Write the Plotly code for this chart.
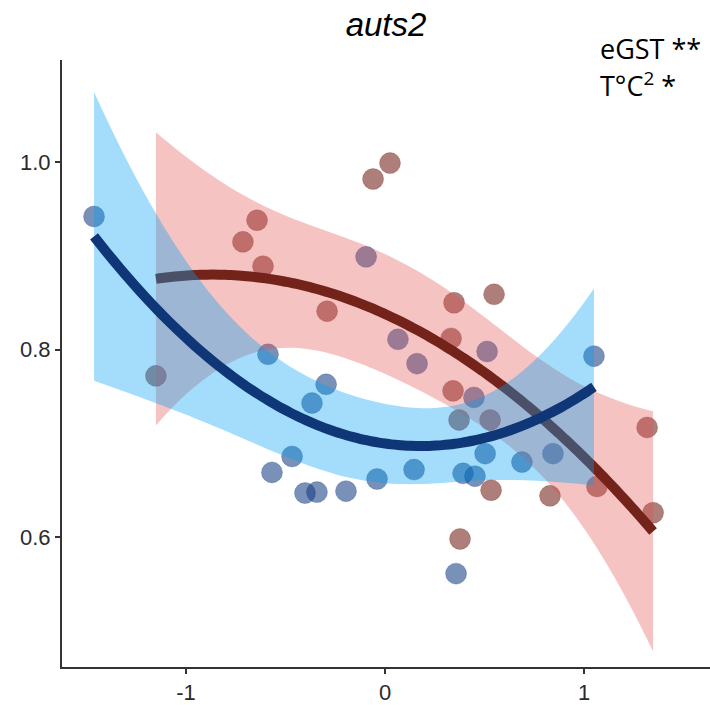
import math
import numpy as np
import plotly.graph_objects as go

# Observations per group (standardised predictor vs. expression)
blue_x = [-1.462, -0.095, -0.588, -0.296, -0.367, -0.568, -0.467, -0.402, -0.342,
          -0.196, -0.040, 0.146, 0.447, 0.392, 0.452, 0.503, 0.688, 0.844, 1.050,
          0.357, 0.065, 0.161, 0.513]
blue_y = [0.942, 0.899, 0.795, 0.763, 0.743, 0.669, 0.686, 0.647, 0.648,
          0.649, 0.662, 0.672, 0.749, 0.668, 0.665, 0.689, 0.680, 0.689, 0.793,
          0.561, 0.811, 0.785, 0.798]

red_x = [-1.151, -0.643, -0.714, -0.613, -0.060, 0.025, -0.291, 0.347, 0.548,
         0.332, 0.342, 0.829, 0.533, 0.377, 1.317, 1.347, 1.065, 0.372, 0.528]
red_y = [0.772, 0.938, 0.915, 0.889, 0.982, 0.999, 0.841, 0.850, 0.859,
         0.812, 0.756, 0.644, 0.650, 0.598, 0.717, 0.626, 0.654, 0.725, 0.725]

x_ticks = [-1, 0, 1]
y_ticks = [0.6, 0.8, 1.0]
title_text = "<i>auts2</i>"
note_lines = ["eGST **", "T°C<sup>2</sup> *"]


def t_quantile(p, df):
    """Student t quantile by numerical integration of the density."""
    xs = np.linspace(0.0, 12.0, 240001)
    c = math.exp(math.lgamma((df + 1) / 2) - math.lgamma(df / 2)) / math.sqrt(df * math.pi)
    pdf = c * (1 + xs ** 2 / df) ** (-(df + 1) / 2)
    cdf = 0.5 + np.concatenate([[0.0], np.cumsum((pdf[1:] + pdf[:-1]) / 2 * np.diff(xs))])
    return float(np.interp(p, cdf, xs))


def quad_smooth(xv, yv, n=80, level=0.95):
    """Quadratic least-squares fit with a confidence band for the mean."""
    x = np.asarray(xv, float)
    y = np.asarray(yv, float)
    X = np.column_stack([np.ones_like(x), x, x ** 2])
    beta, *_ = np.linalg.lstsq(X, y, rcond=None)
    resid = y - X @ beta
    dof = len(x) - 3
    s2 = float(resid @ resid) / dof
    xtx_inv = np.linalg.inv(X.T @ X)
    grid = np.linspace(x.min(), x.max(), n)
    G = np.column_stack([np.ones_like(grid), grid, grid ** 2])
    fit = G @ beta
    se = np.sqrt(np.einsum("ij,jk,ik->i", G, xtx_inv, G) * s2)
    t = t_quantile(0.5 + level / 2, dof)
    return grid, fit, fit - t * se, fit + t * se


red_fill = "rgba(230,80,80,0.34)"
blue_fill = "rgba(0,160,245,0.36)"
red_line = "#73231a"
blue_line = "#0f3778"

fig = go.Figure()

# points first, so the bands sit on top of them
fig.add_trace(go.Scatter(
    x=red_x, y=red_y, mode="markers",
    marker=dict(size=21, color="rgba(115,35,25,0.58)",
                line=dict(width=1, color="rgba(115,35,25,0.25)")),
    showlegend=False, hoverinfo="skip"))
fig.add_trace(go.Scatter(
    x=blue_x, y=blue_y, mode="markers",
    marker=dict(size=21, color="rgba(20,60,130,0.57)",
                line=dict(width=1, color="rgba(20,60,130,0.25)")),
    showlegend=False, hoverinfo="skip"))

for xs, ys, fc, lc in [(red_x, red_y, red_fill, red_line),
                       (blue_x, blue_y, blue_fill, blue_line)]:
    g, f, lo, hi = quad_smooth(xs, ys)
    fig.add_trace(go.Scatter(
        x=np.concatenate([g, g[::-1]]), y=np.concatenate([hi, lo[::-1]]),
        mode="lines", fill="toself", fillcolor=fc,
        line=dict(width=0, simplify=False),
        showlegend=False, hoverinfo="skip"))
    fig.add_trace(go.Scatter(
        x=g, y=f, mode="lines",
        line=dict(color=lc, width=10, shape="spline", simplify=False),
        showlegend=False, hoverinfo="skip"))

axis_common = dict(showgrid=False, zeroline=False, showline=True,
                   linecolor="#333333", linewidth=2, ticks="outside",
                   ticklen=5, tickwidth=2, tickcolor="#333333",
                   tickfont=dict(family="Liberation Sans, Arial", size=22, color="#2b2b2b"))

fig.update_layout(
    width=710, height=705,
    margin=dict(l=62, r=0, t=60, b=33),
    paper_bgcolor="white", plot_bgcolor="white",
    title=dict(text=title_text, x=0.5, xref="paper", xanchor="center",
               y=1 - 24 / 705, yref="container", yanchor="middle",
               font=dict(family="Liberation Sans, Arial", size=33, color="black")),
    xaxis=dict(range=[-1.623, 1.633], tickvals=x_ticks,
               ticktext=[str(v) for v in x_ticks], **axis_common),
    yaxis=dict(range=[0.4614, 1.109], tickvals=y_ticks,
               ticktext=[f"{v:.1f}" for v in y_ticks], **axis_common),
)

for txt, yp in zip(note_lines, [1.0196, 0.959]):
    fig.add_annotation(text=txt, xref="paper", yref="paper", x=0.827, y=yp,
                       xanchor="left", yanchor="middle", showarrow=False,
                       font=dict(family="Open Sans", size=27, color="black"))

fig.write_html("out.html")
